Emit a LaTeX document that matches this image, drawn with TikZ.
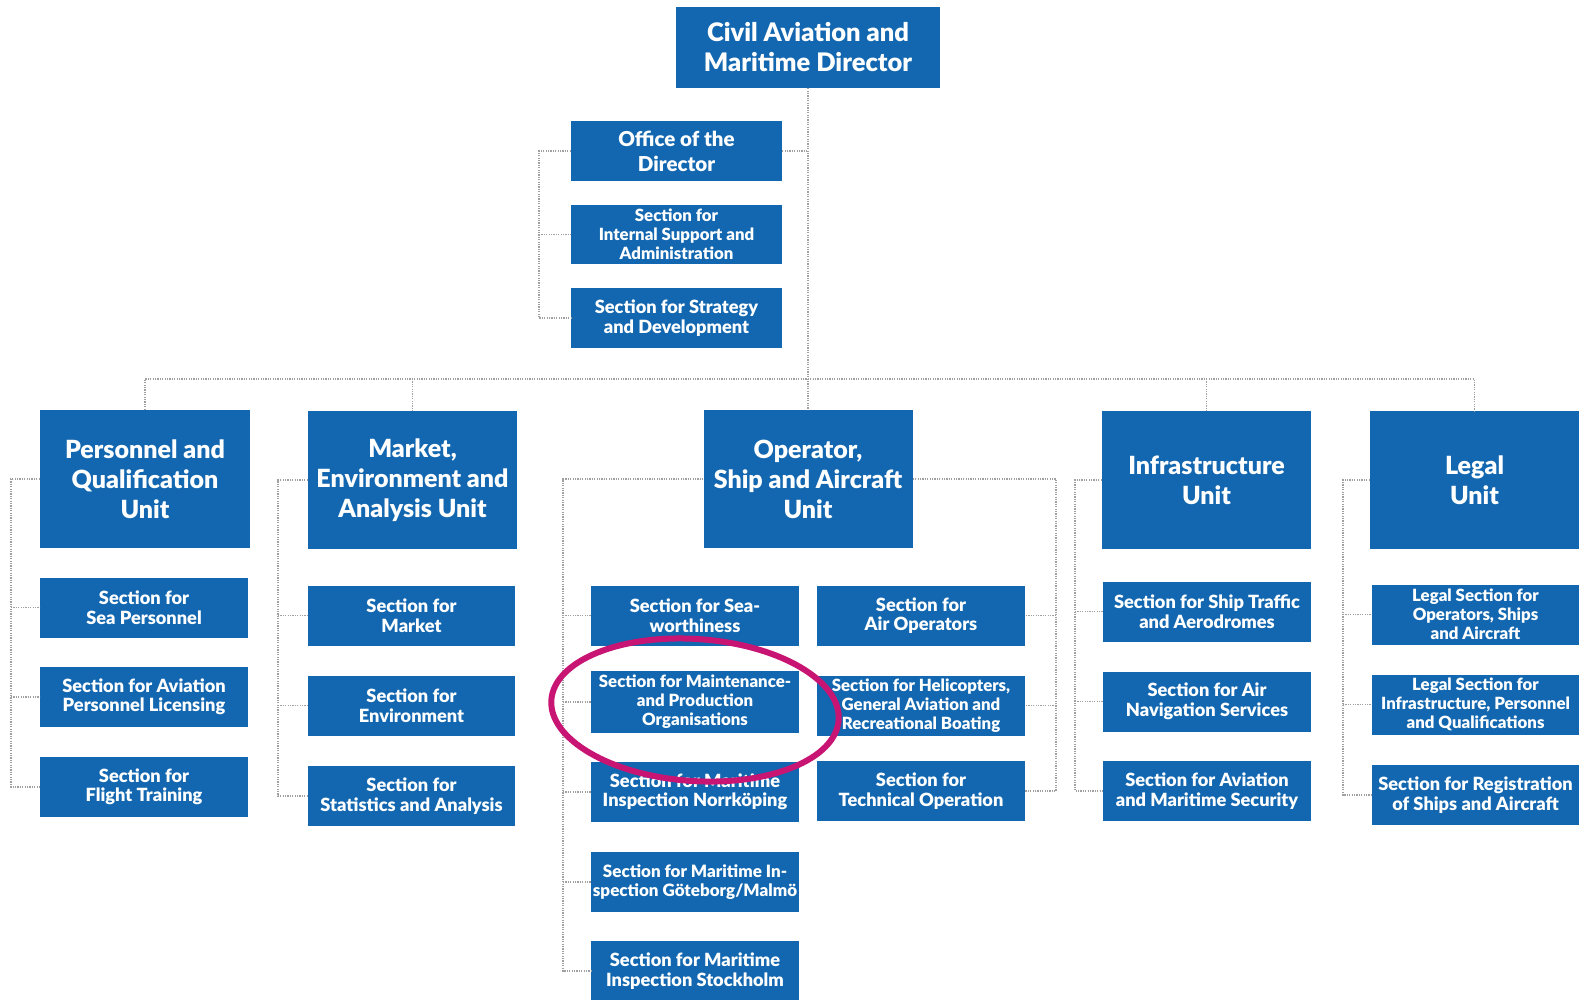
\documentclass[tikz,border=0pt]{standalone}
\usepackage{fontspec}
\setmainfont{Lato}[BoldFont={Lato Black}]
\definecolor{boxblue}{RGB}{18,103,176}
\definecolor{ringmag}{RGB}{200,20,115}
\definecolor{linegray}{RGB}{160,160,160}
\begin{document}
\begin{tikzpicture}[x=1pt,y=-1pt,
  box/.style={fill=boxblue,draw=none,text=white,align=center,inner sep=1pt,font=\bfseries},
  bigbox/.style={box,minimum width=209pt,minimum height=138pt,font=\bfseries\fontsize{25}{30}\selectfont},
  secbox/.style={box,minimum width=207pt,minimum height=60pt,font=\bfseries\fontsize{18.2}{19.5}\selectfont},
  sec3/.style={secbox,font=\bfseries\fontsize{16.8}{19}\selectfont},
  conn/.style={draw=linegray,line width=1.4pt,dash pattern=on 1.2pt off 1.2pt}]
\useasboundingbox (0,0) rectangle (1581,999);
\fill[white] (0,0) rectangle (1581,999);
% top
\node[box,minimum width=264pt,minimum height=81pt,font=\bfseries\fontsize{25.5}{30}\selectfont] (dir) at (808,47.5) {Civil Aviation and\\Maritime Director};
\node[secbox,minimum width=211pt,font=\bfseries\fontsize{20.5}{25}\selectfont] (off) at (676.5,151) {Office of the\\Director};
\node[sec3,minimum width=211pt,minimum height=59pt] (isa) at (676.5,234.5) {Section for\\Internal Support and\\Administration};
\node[secbox,minimum width=211pt] (sdv) at (676.5,318) {Section for Strategy\\and Development};
% units
\node[bigbox,minimum width=210pt] (pq) at (145,479) {Personnel and\\Qualification\\Unit};
\node[bigbox] (mea) at (412.5,480) {Market,\\Environment and\\Analysis Unit};
\node[bigbox] (osa) at (808,479) {Operator,\\Ship and Aircraft\\Unit};
\node[bigbox] (inf) at (1206.5,480) {Infrastructure\\Unit};
\node[bigbox] (leg) at (1474.5,480) {Legal\\Unit};
% personnel sections
\node[secbox,minimum width=208pt] (pq1) at (144,607.5) {Section for\\Sea Personnel};
\node[secbox,minimum width=208pt] (pq2) at (144,697) {Section for Aviation\\Personnel Licensing};
\node[secbox,minimum width=208pt] (pq3) at (144,787) {Section for\\Flight Training};
% market sections
\node[secbox] (me1) at (411.5,615.5) {Section for\\Market};
\node[secbox] (me2) at (411.5,705.5) {Section for\\Environment};
\node[secbox] (me3) at (411.5,796) {Section for\\Statistics and Analysis};
% operator left
\node[secbox,minimum width=208pt] (os1) at (695,615.5) {Section for Sea-\\worthiness};
\node[sec3,minimum width=208pt,minimum height=62pt] (os2) at (695,702) {Section for Maintenance-\\and Production\\Organisations};
\node[secbox,minimum width=208pt] (os3) at (695,792) {Section for Maritime\\Inspection Norrköping};
\node[secbox,minimum width=208pt,font=\bfseries\fontsize{17}{19.5}\selectfont] (os4) at (695,882) {Section for Maritime In-\\spection Göteborg/Malmö};
\node[secbox,minimum width=208pt] (os5) at (695,971) {Section for Maritime\\Inspection Stockholm};
% operator right
\node[secbox,minimum width=208pt] (or1) at (921,615.5) {Section for\\Air Operators};
\node[sec3,minimum width=208pt] (or2) at (921,705.5) {Section for Helicopters,\\General Aviation and\\Recreational Boating};
\node[secbox,minimum width=208pt] (or3) at (921,791) {Section for\\Technical Operation};
% infrastructure
\node[secbox,minimum width=208pt] (in1) at (1207,611.5) {Section for Ship Traffic\\and Aerodromes};
\node[secbox,minimum width=208pt] (in2) at (1207,701.5) {Section for Air\\Navigation Services};
\node[secbox,minimum width=208pt] (in3) at (1207,791) {Section for Aviation\\and Maritime Security};
% legal
\node[sec3] (lg1) at (1475.5,614.5) {Legal Section for\\Operators, Ships\\and Aircraft};
\node[sec3] (lg2) at (1475.5,704.5) {Legal Section for\\Infrastructure, Personnel\\and Qualifications};
\node[secbox] (lg3) at (1475.5,795) {Section for Registration\\of Ships and Aircraft};
% bracket x positions
\coordinate (bx0) at (539,0);
\coordinate (bx1) at (11,0);
\coordinate (bx2) at (278,0);
\coordinate (bx3) at (563,0);
\coordinate (bx4) at (1056,0);
\coordinate (bx5) at (1075,0);
\coordinate (bx6) at (1343,0);
\coordinate (hy) at (0,379);
% connectors
\draw[conn] (dir.south) -- (osa.north);
\draw[conn] (off.east) -- (off.east -| dir.south);
\draw[conn] (off.west) -- (off.west -| bx0) -- (sdv.west -| bx0) -- (sdv.west);
\draw[conn] (isa.west -| bx0) -- (isa.west);
\draw[conn] (pq.north) -- (pq.north |- hy) -- (leg.north |- hy) -- (leg.north);
\draw[conn] (mea.north |- hy) -- (mea.north);
\draw[conn] (inf.north |- hy) -- (inf.north);
% personnel
\draw[conn] (pq.west) -- (pq.west -| bx1) -- (pq3.west -| bx1) -- (pq3.west);
\draw[conn] (pq1.west -| bx1) -- (pq1.west);
\draw[conn] (pq2.west -| bx1) -- (pq2.west);
% market
\draw[conn] (mea.west) -- (mea.west -| bx2) -- (me3.west -| bx2) -- (me3.west);
\draw[conn] (me1.west -| bx2) -- (me1.west);
\draw[conn] (me2.west -| bx2) -- (me2.west);
% operator left
\draw[conn] (osa.west) -- (osa.west -| bx3) -- (os5.west -| bx3) -- (os5.west);
\foreach \n in {os1,os2,os3,os4} \draw[conn] (\n.west -| bx3) -- (\n.west);
% operator right
\draw[conn] (osa.east) -- (osa.east -| bx4) -- (or3.east -| bx4) -- (or3.east);
\foreach \n in {or1,or2} \draw[conn] (\n.east -| bx4) -- (\n.east);
% infrastructure
\draw[conn] (inf.west) -- (inf.west -| bx5) -- (in3.west -| bx5) -- (in3.west);
\foreach \n in {in1,in2} \draw[conn] (\n.west -| bx5) -- (\n.west);
% legal
\draw[conn] (leg.west) -- (leg.west -| bx6) -- (lg3.west -| bx6) -- (lg3.west);
\foreach \n in {lg1,lg2} \draw[conn] (\n.west -| bx6) -- (\n.west);
% highlight ring
\draw[ringmag,line width=6pt] (695,710) ellipse [x radius=144pt,y radius=71pt,rotate=-4];
\end{tikzpicture}
\end{document}
